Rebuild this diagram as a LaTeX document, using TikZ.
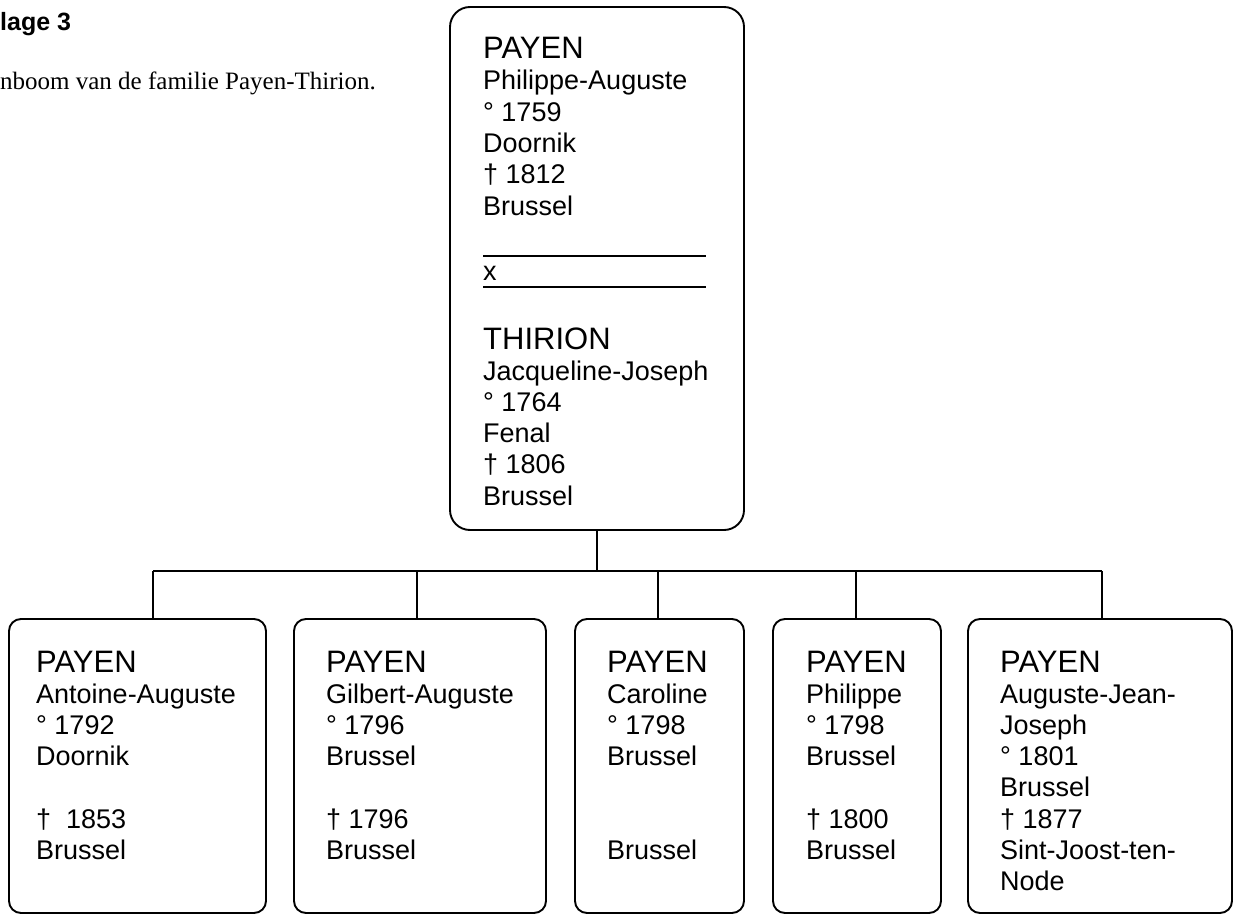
\documentclass[tikz,border=0pt]{standalone}
\usepackage{fontspec}
\setmainfont{Liberation Serif}
\newfontfamily\grotesk{Liberation Sans}
\tikzset{
  card/.style={draw, line width=1.9pt, rounded corners=12pt, inner sep=0pt, outer sep=0pt, anchor=north west},
  bigcard/.style={card, rounded corners=20pt},
  ttl/.style={font=\grotesk\fontsize{31}{31}\selectfont, inner sep=0pt, anchor=base west},
  txt/.style={font=\grotesk\fontsize{27}{31}\selectfont, inner sep=0pt, anchor=base west},
  link/.style={line width=2.2pt},
  sepline/.style={line width=2.6pt},
}
\newcommand\famtext[5]{%
  \node[ttl] (#1t) at (#2,#3) {#4};
  \foreach \s [count=\i] in {#5} {\node[txt] (#1l\i) at (#2,{#3+31+(\i-1)*31.3}) {\s};}
}
\begin{document}
\begin{tikzpicture}[x=1pt,y=-1pt]
\useasboundingbox (0,0) rectangle (1234,915);
% header
\node[font=\grotesk\bfseries\fontsize{25}{27}\selectfont, inner sep=0pt, anchor=base west] (hd) at (0,31) {lage 3};
\node[font=\fontsize{25}{27}\selectfont, inner sep=0pt, anchor=base west] (cap) at (0,90) {nboom van de familie Payen-Thirion.};
% boxes
\node[bigcard, minimum width=294pt, minimum height=523pt] (top) at (450,7) {};
\node[card, minimum width=257pt, minimum height=294pt] (c1) at (9,619) {};
\node[card, minimum width=252pt, minimum height=294pt] (c2) at (294,619) {};
\node[card, minimum width=169pt, minimum height=294pt] (c3) at (575,619) {};
\node[card, minimum width=168pt, minimum height=294pt] (c4) at (773,619) {};
\node[card, minimum width=264pt, minimum height=294pt] (c5) at (968,619) {};
% texts
\famtext{p}{483}{59}{PAYEN}{Philippe-Auguste,° 1759,Doornik,† 1812,Brussel}
\coordinate (s1a) at (483,256); \coordinate (s1b) at (706,256);
\coordinate (s2a) at (483,287); \coordinate (s2b) at (706,287);
\draw[sepline] (s1a) -- (s1b);
\draw[sepline] (s2a) -- (s2b);
\node[txt] (xm) at (483,280) {x};
\famtext{m}{483}{349}{THIRION}{Jacqueline-Joseph,° 1764,Fenal,† 1806,Brussel}
\famtext{a}{36}{672}{PAYEN}{Antoine-Auguste,° 1792,Doornik,,†\ \ 1853,Brussel}
\famtext{b}{326}{672}{PAYEN}{Gilbert-Auguste,° 1796,Brussel,,† 1796,Brussel}
\famtext{c}{607}{672}{PAYEN}{Caroline,° 1798,Brussel,,,Brussel}
\famtext{d}{806}{672}{PAYEN}{Philippe,° 1798,Brussel,,† 1800,Brussel}
\famtext{e}{1000}{672}{PAYEN}{Auguste-Jean-,Joseph,° 1801,Brussel,† 1877,Sint-Joost-ten-,Node}
% connectors
\coordinate (d1) at (153,571);
\coordinate (d2) at (417,571);
\coordinate (d3) at (658,571);
\coordinate (d4) at (856,571);
\coordinate (d5) at (1102,571);
\draw[link] (top.south) -- (top.south |- d1);
\draw[link] (d1) -- (d5);
\foreach \k in {1,...,5} {\draw[link] (d\k) -- (d\k |- c\k.north);}
\end{tikzpicture}
\end{document}
